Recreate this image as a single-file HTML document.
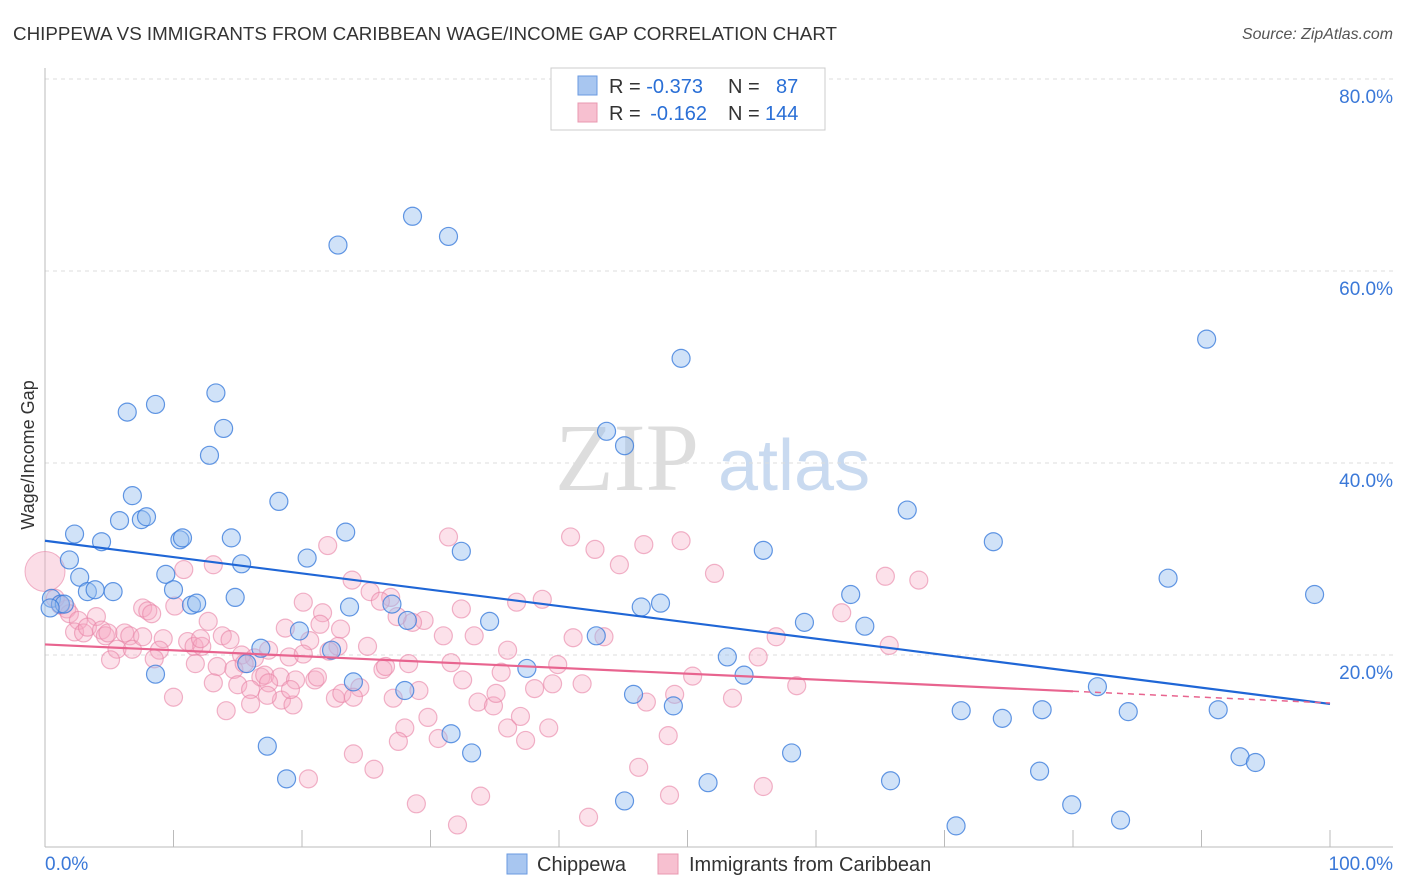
<!DOCTYPE html>
<html><head><meta charset="utf-8"><style>
body{margin:0;background:#fff;font-family:"Liberation Sans",sans-serif;}
svg{display:block}
</style></head><body>
<svg id="chart" width="1406" height="892" xmlns="http://www.w3.org/2000/svg">
<text x="13" y="40" font-size="18.8" fill="#333" font-family="Liberation Sans">CHIPPEWA VS IMMIGRANTS FROM CARIBBEAN WAGE/INCOME GAP CORRELATION CHART</text>
<text x="1393" y="39" font-size="15.9" fill="#555" text-anchor="end" font-style="italic">Source: ZipAtlas.com</text>
<text x="555" y="490" font-size="96" fill="#ddd" font-family="Liberation Serif">ZIP</text>
<text x="718" y="490" font-size="72" fill="#c9daf0">atlas</text>
<g id="grid"></g>
<g id="axes"></g>
<g id="pts"></g>
<g id="lines"></g>
<text transform="translate(34,455) rotate(-90)" font-size="18" fill="#333" text-anchor="middle">Wage/Income Gap</text>
<g>
<rect x="551" y="68" width="274" height="62" fill="#fff" stroke="#ccc"/>
<rect x="578" y="76" width="19" height="19" fill="#a8c6f0" stroke="#6a9ae0"/>
<rect x="578" y="103" width="19" height="19" fill="#f7c0d0" stroke="#e898b0"/>
<text x="609" y="93" font-size="20" fill="#333">R = <tspan fill="#2a6fd6">-0.373</tspan><tspan x="728">N = </tspan><tspan x="776" fill="#2a6fd6">87</tspan></text>
<text x="609" y="120" font-size="20" fill="#333">R = <tspan fill="#2a6fd6" dx="4">-0.162</tspan><tspan x="728">N = </tspan><tspan x="765" fill="#2a6fd6">144</tspan></text>
</g>
<g>
<rect x="507" y="854" width="20" height="20" fill="#a8c6f0" stroke="#6a9ae0"/>
<text x="537" y="871" font-size="20" fill="#333">Chippewa</text>
<rect x="658" y="854" width="20" height="20" fill="#f7c0d0" stroke="#e898b0"/>
<text x="689" y="871" font-size="20" fill="#333">Immigrants from Caribbean</text>
</g>
</svg>
<script>
const yTicks=[20,40,60,80];
const yTickLabels=["20.0%","40.0%","60.0%","80.0%"];
const xTickLabels=["0.0%","100.0%"];
const blueX=[28.6,31.4,22.8,49.5,90.4,13.3,6.4,8.6,13.9,12.8,43.7,45.1,6.8,18.2,67.1,2.3,4.4,5.8,7.5,7.9,10.5,10.7,14.5,23.4,32.4,55.9,73.8,20.4,1.9,15.3,9.4,2.7,10.0,3.3,3.9,5.3,14.8,87.4,98.8,62.7,0.5,1.2,1.5,11.4,11.8,23.7,27.0,28.2,34.6,46.4,47.9,42.9,59.1,63.8,16.8,19.8,22.3,15.7,37.5,53.1,54.4,8.6,24.0,28.0,45.8,48.9,81.9,71.3,74.5,77.6,84.3,91.3,31.6,33.2,17.3,58.1,93.0,94.2,77.4,18.8,65.8,51.6,45.1,79.9,70.9,83.7,0.4];
const blueY=[65.7,63.6,62.7,50.9,52.9,47.3,45.3,46.1,43.6,40.8,43.3,41.8,36.6,36.0,35.1,32.6,31.8,34.0,34.1,34.4,32.0,32.2,32.2,32.8,30.8,30.9,31.8,30.1,29.9,29.5,28.4,28.1,26.8,26.6,26.8,26.6,26.0,28.0,26.3,26.3,25.9,25.3,25.3,25.2,25.4,25.0,25.3,23.6,23.5,25.0,25.4,22.0,23.4,23.0,20.7,22.5,20.5,19.1,18.6,19.8,17.9,18.0,17.2,16.3,15.9,14.7,16.7,14.2,13.4,14.3,14.1,14.3,11.8,9.8,10.5,9.8,9.4,8.8,7.9,7.1,6.9,6.7,4.8,4.4,2.2,2.8,24.9];
const pinkX=[31.4,40.9,42.8,46.6,49.5,22.0,44.7,13.1,10.8,52.1,65.4,68.0,23.9,25.3,26.9,26.1,36.7,38.7,20.1,32.4,29.5,28.6,27.4,21.6,7.6,8.0,8.3,10.1,4.0,1.7,1.9,0.8,1.2,2.6,2.3,3.0,3.3,4.4,4.7,4.9,6.2,6.6,5.6,6.8,7.6,9.2,11.1,11.6,12.2,12.1,13.8,12.7,15.3,16.3,17.4,18.7,19.0,20.6,21.4,23.0,22.8,25.1,20.1,22.1,31.0,33.4,36.0,41.1,43.5,56.9,62.0,65.7,55.5,11.7,13.4,14.7,15.5,16.8,17.1,18.3,19.5,21.0,21.2,24.5,26.3,28.3,26.5,31.6,32.5,35.5,39.9,41.8,50.4,53.5,13.1,15.0,16.0,17.4,18.4,16.0,17.3,19.3,10.0,14.1,22.6,23.1,24.0,27.1,29.1,33.7,34.9,35.1,38.1,39.5,46.8,49.0,58.5,29.8,28.0,27.5,30.6,36.0,37.0,39.2,37.4,48.5,24.0,25.6,20.5,33.9,28.9,46.2,48.6,55.9,42.3,32.1,8.9,14.4,19.1,8.5,5.1];
const pinkY=[32.3,32.3,31.0,31.5,31.9,31.4,29.4,29.4,28.9,28.5,28.2,27.8,27.8,26.6,26.0,25.6,25.5,25.8,25.5,24.8,23.6,23.4,24.0,24.4,24.9,24.6,24.3,25.1,24.0,24.8,24.3,25.9,25.2,23.6,22.4,22.3,22.9,22.6,22.0,22.3,22.3,22.0,20.6,20.6,21.9,21.7,21.4,20.9,20.9,21.7,22.0,23.5,20.0,19.7,20.5,22.8,19.8,21.5,23.2,22.7,20.9,20.9,20.1,20.4,22.0,22.0,20.5,21.8,21.9,21.9,24.4,21.0,19.8,19.1,18.8,18.5,19.1,17.7,17.9,17.7,17.4,17.4,17.7,16.6,18.5,19.1,18.8,19.2,17.4,18.2,19.0,17.0,17.8,15.5,17.1,16.9,16.4,17.1,15.3,14.9,15.8,14.8,15.6,14.2,15.5,16.0,15.6,15.5,16.3,15.1,14.7,16.0,16.5,17.0,15.1,15.9,16.8,13.5,12.4,11.0,11.3,12.4,13.6,12.4,11.1,11.6,9.7,8.1,7.1,5.3,4.5,8.3,5.4,6.3,3.1,2.3,20.5,21.6,16.4,19.6,19.5];
const blueTrend=[31.9,14.9];
const pinkTrend=[21.1,15.0];
const pinkSolidEnd=80;
const NS="http://www.w3.org/2000/svg";
function sx(v){return 45+v*12.85;}
function sy(v){return 847-v*9.6;}
function mk(tag,attrs,parent){const e=document.createElementNS(NS,tag);for(const k in attrs)e.setAttribute(k,attrs[k]);parent.appendChild(e);return e;}
const grid=document.getElementById('grid'),axes=document.getElementById('axes'),pts=document.getElementById('pts'),lines=document.getElementById('lines');
yTicks.forEach((t,i)=>{
 const l=mk('line',{x1:45,x2:1393,y1:sy(t),y2:sy(t),stroke:'#ddd','stroke-dasharray':'4,4'},grid);
 
 
 const tx=mk('text',{x:1393,y:sy(t)+24,'font-size':19,fill:'#3a78d8','text-anchor':'end'},axes);
 tx.textContent=yTickLabels[i];
 
 
});
const ya=mk('line',{x1:45,x2:45,y1:68,y2:847,stroke:'#bbb'},axes);


const xa=mk('line',{x1:45,x2:1393,y1:847,y2:847,stroke:'#bbb'},axes);


for(let i=0;i<=10;i++){
 const t=mk('line',{x1:sx(i*10),x2:sx(i*10),y1:830,y2:847,stroke:'#bbb'},axes);
 
 
}
const xl0=mk('text',{x:45,y:870,'font-size':19,fill:'#3a78d8'},axes);xl0.textContent=xTickLabels[0];


const xl1=mk('text',{x:1393,y:870,'font-size':19,fill:'#3a78d8','text-anchor':'end'},axes);xl1.textContent=xTickLabels[1];


const big=mk('circle',{cx:sx(0),cy:sy(28.7),r:20,fill:'rgba(245,170,195,0.4)',stroke:'rgba(232,130,165,0.6)'},pts);


pinkX.forEach((x,i)=>{
 const c=mk('circle',{cx:sx(x),cy:sy(pinkY[i]),r:9,fill:'rgba(245,170,195,0.35)',stroke:'rgba(232,130,165,0.6)','stroke-width':1.2},pts);
 
 
});
blueX.forEach((x,i)=>{
 const c=mk('circle',{cx:sx(x),cy:sy(blueY[i]),r:9,fill:'rgba(150,190,240,0.45)',stroke:'rgba(60,125,220,0.8)','stroke-width':1.2},pts);
 
 
});
const bl=mk('line',{x1:sx(0),y1:sy(blueTrend[0]),x2:sx(100),y2:sy(blueTrend[1]),stroke:'#1f66d6','stroke-width':2.2},lines);


const pMid=pinkTrend[0]+(pinkTrend[1]-pinkTrend[0])*pinkSolidEnd/100;
const pl=mk('line',{x1:sx(0),y1:sy(pinkTrend[0]),x2:sx(pinkSolidEnd),y2:sy(pMid),stroke:'#e8648f','stroke-width':2.2},lines);


const pd=mk('line',{x1:sx(pinkSolidEnd),y1:sy(pMid),x2:sx(100),y2:sy(pinkTrend[1]),stroke:'#e8648f','stroke-width':1.5,'stroke-dasharray':'6,5'},lines);


</script>
</body></html>
